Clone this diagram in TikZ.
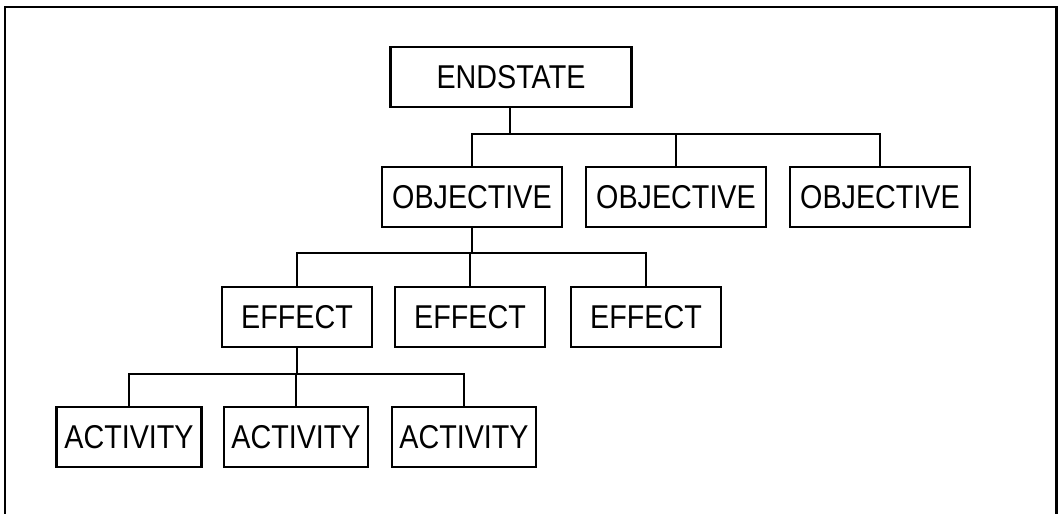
\documentclass[tikz,border=0pt]{standalone}
\usepackage{fontspec}
\newfontfamily\boxfont[FakeStretch=0.87]{Liberation Sans}
\begin{document}
\begin{tikzpicture}[x=1pt,y=-1pt,
  levelbox/.style={draw=black, line width=2.3pt, minimum height=60pt, inner sep=0pt,
    font=\boxfont\fontsize{33}{37}\selectfont, text=black},
  link/.style={draw=black, line width=2.3pt, line join=miter}]
\useasboundingbox (0,0) rectangle (1058,514);
% frame open at the bottom
\draw[line width=2.4pt] (5,514) -- (5,7) -- (1056.5,7) -- (1056.5,514);

% hierarchy boxes
\node[levelbox, minimum width=241pt] (end) at (511,77) {ENDSTATE};

\node[levelbox, minimum width=180pt] (obj1) at (472,197) {OBJECTIVE};
\node[levelbox, minimum width=180pt] (obj2) at (676,197) {OBJECTIVE};
\node[levelbox, minimum width=180pt] (obj3) at (880,197) {OBJECTIVE};

\node[levelbox, minimum width=150pt] (eff1) at (297,317) {EFFECT};
\node[levelbox, minimum width=150pt] (eff2) at (470,317) {EFFECT};
\node[levelbox, minimum width=150pt] (eff3) at (646,317) {EFFECT};

\node[levelbox, minimum width=145pt] (act1) at (129,437) {ACTIVITY};
\node[levelbox, minimum width=144pt] (act2) at (296,437) {ACTIVITY};
\node[levelbox, minimum width=144pt] (act3) at (464,437) {ACTIVITY};

% bus points between levels
\coordinate (bus1) at (510,134);
\coordinate (bus2) at (472,253);
\coordinate (bus3) at (297,374);

% connectors
\draw[link] (end.south -| bus1) -- (bus1);
\draw[link] (obj1.north) |- (bus1) -| (obj3.north);
\draw[link] (obj2.north) |- (bus1);

\draw[link] (obj1.south) -- (bus2);
\draw[link] (eff1.north) |- (bus2) -| (eff3.north);
\draw[link] (eff2.north) |- (bus2);

\draw[link] (eff1.south) -- (bus3);
\draw[link] (act1.north) |- (bus3) -| (act3.north);
\draw[link] (act2.north) |- (bus3);
\end{tikzpicture}
\end{document}
